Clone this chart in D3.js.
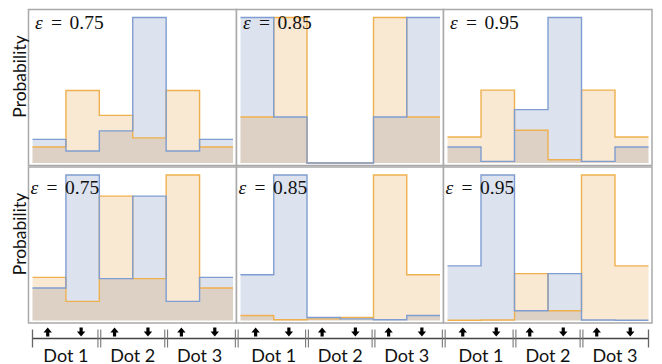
<!DOCTYPE html>
<html>
<head>
<meta charset="utf-8">
<script src="https://cdn.jsdelivr.net/npm/d3@7"></script>
<style>
  html, body { margin: 0; padding: 0; background: #fff; }
  svg { display: block; }
</style>
</head>
<body>
<svg id="chart" width="662" height="364"></svg>
<script>
// Outcome categories: three dots, each read out as spin up / spin down
const dots = ["Dot 1", "Dot 2", "Dot 3"];
const spins = ["up", "down"];
const epsilons = ["0.75", "0.85", "0.95"];

// Probabilities per outcome (Dot1↑, Dot1↓, Dot2↑, Dot2↓, Dot3↑, Dot3↓), one list per ε
const blueTop = [
  [0.095, 0.048, 0.129, 0.584, 0.048, 0.095],
  [0.380, 0.120, 0.000, 0.000, 0.120, 0.380],
  [0.068, 0.007, 0.228, 0.621, 0.007, 0.068]
];
const orangeTop = [
  [0.064, 0.291, 0.191, 0.101, 0.291, 0.064],
  [0.120, 0.380, 0.000, 0.000, 0.380, 0.120],
  [0.111, 0.311, 0.140, 0.014, 0.311, 0.111]
];
const blueBottom = [
  [0.080, 0.358, 0.103, 0.306, 0.047, 0.106],
  [0.227, 0.721, 0.015, 0.008, 0.004, 0.025],
  [0.212, 0.565, 0.038, 0.182, 0.002, 0.001]
];
const orangeBottom = [
  [0.106, 0.047, 0.306, 0.103, 0.358, 0.080],
  [0.025, 0.004, 0.008, 0.015, 0.721, 0.227],
  [0.001, 0.002, 0.182, 0.038, 0.565, 0.212]
];

const svg = d3.select("#chart");

// Panel frames
const frameX = [28.5, 236.5, 443.5, 652];
const frameY = [[9.5, 165.5], [167, 323]];
const insetL = 4, insetR = 3.5, insetTop = 8, insetBottom = 2.5;

const rows = [
  { blue: blueTop, orange: orangeTop, labelDx: 2.5, labelDy: 19.5 },
  { blue: blueBottom, orange: orangeBottom, labelDx: -2, labelDy: 26.5 }
];

const style = {
  frame: "#a9a9a9",
  blueLine: "#7f9dd0",
  orangeLine: "#efb04f",
  blueFill: "rgba(80,115,175,0.2)",
  orangeFill: "rgba(225,140,30,0.2)"
};

const nBins = dots.length * spins.length;
const xScales = [];

rows.forEach((row, r) => {
  const g = svg.append("g");
  const [top, bottom] = frameY[r];

  epsilons.forEach((eps, c) => {
    const x = d3.scaleLinear().domain([0, nBins]).range([frameX[c] + insetL, frameX[c + 1] - insetR]);
    if (r === 1) xScales.push(x);
    const blue = row.blue[c], orange = row.orange[c];
    const y = d3.scaleLinear()
      .domain([0, d3.max(blue.concat(orange))])
      .range([bottom - insetBottom, top + insetTop]);

    g.append("rect")
      .attr("x", frameX[c]).attr("y", top)
      .attr("width", frameX[c + 1] - frameX[c]).attr("height", bottom - top)
      .attr("fill", "#fff").attr("stroke", style.frame).attr("stroke-width", 1.5);

    const steps = vals => vals.map((v, i) => [i, v]).concat([[nBins, vals[nBins - 1]]]);
    const area = d3.area().x(d => x(d[0])).y0(y(0)).y1(d => y(d[1])).curve(d3.curveStepAfter);
    const line = d3.line().x(d => x(d[0])).y(d => y(d[1])).curve(d3.curveStepAfter);

    g.append("path").attr("d", area(steps(blue))).attr("fill", style.blueFill);
    g.append("path").attr("d", area(steps(orange))).attr("fill", style.orangeFill);
    g.append("path").attr("d", line(steps(orange))).attr("fill", "none")
      .attr("stroke", style.orangeLine).attr("stroke-width", 1.4);
    g.append("path").attr("d", line(steps(blue))).attr("fill", "none")
      .attr("stroke", style.blueLine).attr("stroke-width", 1.4);

    // ε label
    const x0 = x(0) + row.labelDx, yb = top + row.labelDy;
    const t = g.append("text")
      .attr("font-family", "'Liberation Serif', 'DejaVu Serif', serif")
      .attr("font-size", 19.5).attr("fill", "#111");
    t.append("tspan").attr("x", x0).attr("y", yb).attr("font-style", "italic").text("ε");
    t.append("tspan").attr("x", x0 + 16).attr("y", yb).text("=");
    t.append("tspan").attr("x", x0 + 34.5).attr("y", yb).text(eps);
  });

  svg.append("text")
    .attr("transform", `translate(19,${(top + bottom) / 2 - 11}) rotate(-90)`)
    .attr("text-anchor", "middle").attr("dominant-baseline", "central")
    .attr("font-family", "Lato, 'Open Sans', sans-serif").attr("font-size", 17.5)
    .attr("fill", "#111")
    .text("Probability");
});

// Bottom category axis
const axisY = 338.5;
const ax = svg.append("g");
const groups = [];
xScales.forEach(x => dots.forEach((name, d) => {
  groups.push({ name, x0: x(d * 2), x1: x(d * 2 + 2), x, d });
}));

ax.append("line")
  .attr("x1", groups[0].x0).attr("x2", groups[groups.length - 1].x1)
  .attr("y1", axisY).attr("y2", axisY)
  .attr("stroke", "#444").attr("stroke-width", 1.3);

[groups[0].x0, groups[groups.length - 1].x1].forEach(xv => {
  ax.append("line").attr("x1", xv).attr("x2", xv)
    .attr("y1", axisY - 9).attr("y2", axisY + 9)
    .attr("stroke", "#666").attr("stroke-width", 1.3);
});

for (let i = 1; i < groups.length; i++) {
  const xv = (groups[i - 1].x1 + groups[i].x0) / 2;
  [-1.4, 1.4].forEach(o => {
    ax.append("line").attr("x1", xv + o).attr("x2", xv + o)
      .attr("y1", axisY - 9).attr("y2", axisY + 9)
      .attr("stroke", "#777").attr("stroke-width", 1.1);
  });
}

// Spin arrows above the axis
const arrowTop = axisY - 11, arrowBot = axisY - 2, headH = 5, headW = 4.2, stemW = 1.6;
groups.forEach(gr => {
  spins.forEach((s, si) => {
    const cx = gr.x(gr.d * 2 + si + 0.5) - 1.5;
    let p;
    if (s === "up") {
      p = `M${cx},${arrowTop} L${cx + headW},${arrowTop + headH} L${cx + stemW},${arrowTop + headH} L${cx + stemW},${arrowBot} L${cx - stemW},${arrowBot} L${cx - stemW},${arrowTop + headH} L${cx - headW},${arrowTop + headH} Z`;
    } else {
      p = `M${cx},${arrowBot} L${cx + headW},${arrowBot - headH} L${cx + stemW},${arrowBot - headH} L${cx + stemW},${arrowTop} L${cx - stemW},${arrowTop} L${cx - stemW},${arrowBot - headH} L${cx - headW},${arrowBot - headH} Z`;
    }
    ax.append("path").attr("d", p).attr("fill", "#000");
  });
  ax.append("text")
    .attr("x", (gr.x0 + gr.x1) / 2).attr("y", 361.5)
    .attr("text-anchor", "middle")
    .attr("font-family", "Lato, 'Open Sans', sans-serif").attr("font-size", 18)
    .attr("fill", "#111")
    .text(gr.name);
});
</script>
</body>
</html>
